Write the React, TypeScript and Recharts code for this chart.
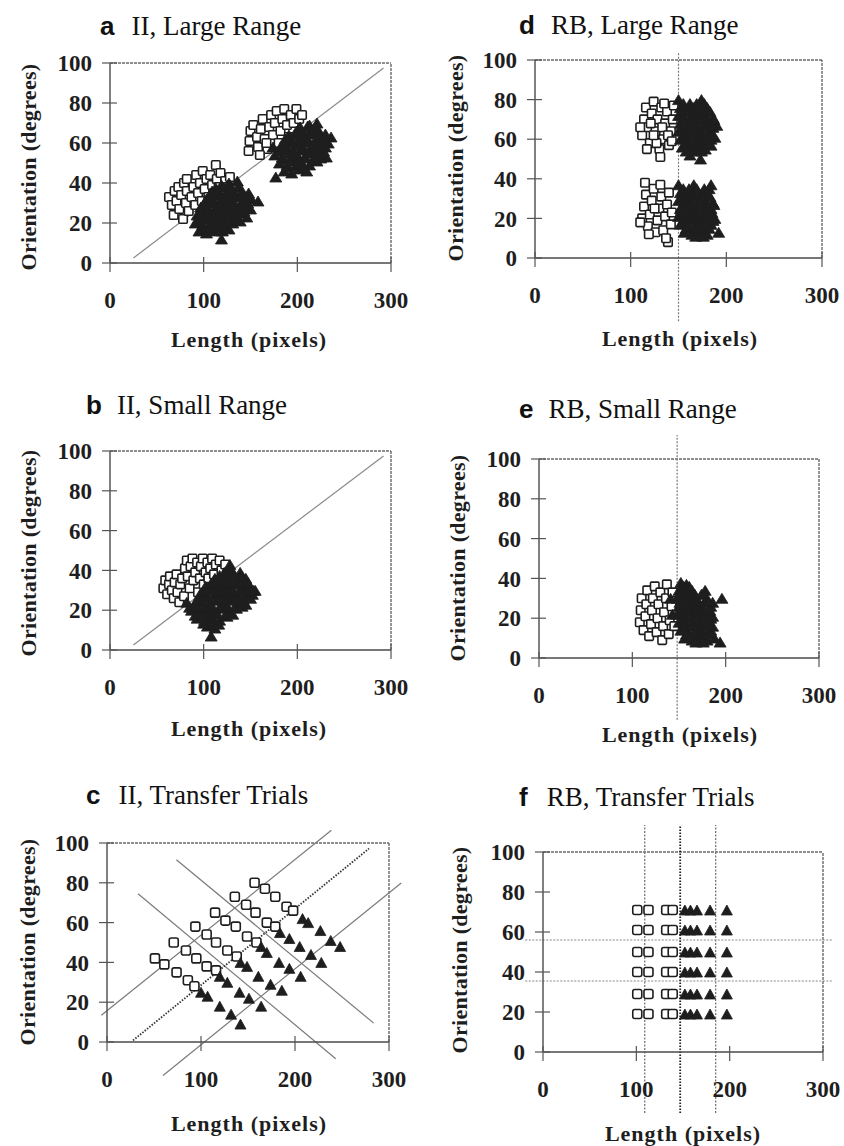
import React from 'react';
import { ScatterChart, Scatter, XAxis, YAxis, ReferenceLine } from 'recharts';

type P = [number, number];

// ---------- Panel a: II, Large Range ----------
const A_SQUARES_LOW: P[] = [
  [63, 33], [66, 29], [68, 24], [69, 36], [71, 31], [73, 38], [74, 27], [76, 34], [78, 22], [79, 40],
  [81, 30], [82, 36], [84, 26], [82, 42], [87, 33], [89, 38], [91, 29], [92, 44], [94, 35], [96, 40],
  [98, 31], [99, 46], [101, 37], [103, 42], [105, 33], [107, 44], [109, 39], [111, 35], [113, 49],
  [114, 42], [116, 38], [118, 45], [120, 36], [123, 41], [126, 38], [128, 43],
];
const A_SQUARES_HIGH: P[] = [
  [148, 56], [149, 61], [150, 66], [153, 69], [157, 63], [158, 58], [161, 67], [163, 72], [165, 62],
  [168, 57], [170, 68], [172, 74], [174, 64], [176, 70], [178, 76], [180, 60], [182, 66], [184, 72],
  [186, 77], [189, 69], [191, 63], [193, 74], [196, 70], [199, 77], [202, 72], [205, 74], [160, 54], [167, 60],
];
const A_TRIANGLES_LOW: P[] = [
  [119, 12],
  [95, 16], [103, 15], [111, 16], [120, 16], [127, 17],
  [91, 20], [99, 19], [107, 20], [115, 19], [123, 21], [131, 20], [139, 21],
  [93, 24], [101, 23], [109, 24], [117, 23], [125, 25], [133, 24], [141, 25], [146, 23],
  [97, 28], [105, 27], [113, 28], [121, 27], [129, 29], [137, 28], [145, 29], [150, 27],
  [103, 32], [111, 31], [119, 32], [127, 31], [135, 33], [143, 31], [151, 32], [158, 31],
  [109, 36], [117, 35], [125, 36], [133, 35], [141, 36], [148, 35],
  [119, 39], [127, 40], [136, 41],
  [99, 17.5], [107, 17.5], [115, 18], [123, 18],
  [95, 21.5], [103, 22], [111, 21.5], [119, 22], [127, 21.5], [135, 22],
  [97, 25.5], [105, 26], [113, 25.5], [121, 26], [129, 25.5], [137, 26], [143, 26],
  [101, 29.5], [109, 30], [117, 29.5], [125, 30], [133, 29.5], [141, 30], [147, 30],
  [107, 33.5], [115, 34], [123, 33.5], [131, 34], [139, 33.5], [146, 33],
  [113, 37.5], [121, 38], [129, 37.5], [137, 38],
];
const A_TRIANGLES_HIGH: P[] = [
  [177, 43],
  [186, 46], [194, 45], [202, 47], [210, 46],
  [181, 50], [189, 49], [197, 51], [205, 50], [213, 49], [221, 51],
  [176, 54], [184, 53], [192, 55], [200, 54], [208, 53], [216, 55], [224, 54], [231, 53],
  [174, 58], [182, 58], [190, 57], [198, 59], [206, 58], [214, 57], [222, 59], [230, 58],
  [187, 62], [195, 61], [203, 63], [211, 62], [219, 61], [227, 62], [236, 63],
  [199, 66], [207, 65], [215, 67], [223, 66],
  [213, 69], [221, 70],
  [190, 48], [198, 48.5], [206, 48],
  [185, 52], [193, 52.5], [201, 52], [209, 52.5], [217, 52], [225, 52.5],
  [180, 56], [188, 56.5], [196, 56], [204, 56.5], [212, 56], [220, 56.5], [228, 56],
  [186, 60], [194, 60.5], [202, 60], [210, 60.5], [218, 60], [226, 60.5], [233, 60],
  [191, 64], [199, 64.5], [207, 64], [215, 64.5], [223, 64], [230, 64.5],
  [203, 68], [211, 68.5], [219, 68],
];

// ---------- Panel b: II, Small Range ----------
const B_SQUARES: P[] = [
  [57, 31], [59, 35], [61, 28], [63, 33], [64, 37], [66, 30], [68, 26], [69, 34], [71, 38], [72, 29],
  [74, 24], [75, 33], [77, 36], [79, 27], [80, 41], [82, 45], [83, 37], [85, 31], [86, 42], [88, 46],
  [89, 35], [91, 39], [93, 44], [94, 29], [96, 36], [97, 42], [99, 46], [100, 33], [102, 39], [104, 44],
  [105, 36], [107, 41], [109, 46], [111, 38], [113, 43], [115, 35], [117, 45], [119, 40], [121, 36],
  [123, 43], [125, 38],
];
const B_TRIANGLES: P[] = [
  [108, 7],
  [104, 12], [112, 11],
  [93, 16], [101, 15], [109, 16], [117, 15], [125, 17],
  [87, 20], [95, 19], [103, 20], [111, 19], [119, 21], [127, 20], [135, 21],
  [82, 24], [90, 23], [98, 24], [106, 23], [114, 25], [122, 24], [130, 25], [138, 24], [145, 23],
  [96, 28], [104, 27], [112, 28], [120, 27], [128, 29], [136, 28], [144, 27], [152, 28], [155, 30],
  [102, 32], [110, 31], [118, 32], [126, 31], [134, 33], [142, 32], [150, 31],
  [112, 36], [120, 35], [128, 36], [136, 35], [145, 36],
  [122, 39], [130, 40], [139, 39],
  [128, 43],
  [100, 13.5], [108, 13.5], [116, 13],
  [91, 17.5], [99, 18], [107, 17.5], [115, 18], [123, 17.5], [131, 18],
  [85, 21.5], [93, 22], [101, 21.5], [109, 22], [117, 21.5], [125, 22], [133, 21.5], [141, 22],
  [94, 25.5], [102, 26], [110, 25.5], [118, 26], [126, 25.5], [134, 26], [142, 25.5], [150, 26],
  [100, 29.5], [108, 30], [116, 29.5], [124, 30], [132, 29.5], [140, 30], [148, 29.5], [153, 30],
  [108, 33.5], [116, 34], [124, 33.5], [132, 34], [140, 33.5], [147, 34],
  [117, 37.5], [125, 38], [133, 37.5], [141, 37],
];
const II_BOUNDARY: P[] = [[25, 2.5], [292, 97.5]];

// ---------- Panel c: II, Transfer Trials ----------
const C_SQUARES: P[] = [
  [157, 80], [168, 77], [179, 73], [191, 68], [198, 66],
  [136, 73], [148, 69], [158, 65], [170, 60], [179, 58],
  [115, 65], [126, 61], [137, 58], [149, 53], [159, 50],
  [94, 58], [106, 54], [116, 50], [128, 46], [138, 43],
  [71, 50], [84, 46], [95, 42], [106, 38], [116, 36],
  [51, 42], [61, 39], [74, 35], [86, 31], [93, 28],
];
const C_TRIANGLES: P[] = [
  [208, 62], [214, 60], [227, 56], [238, 51], [248, 48],
  [184, 55], [194, 52], [205, 48], [217, 44], [228, 40],
  [164, 48], [170, 45], [183, 40], [194, 37], [206, 33],
  [142, 40], [149, 38], [161, 33], [174, 29], [186, 26],
  [120, 33], [128, 30], [141, 25], [151, 22], [164, 18],
  [100, 25], [107, 23], [120, 18], [132, 14], [142, 9],
];
const C_SOLID_LINES: P[][] = [
  [[-6, 13.4], [238.7, 106.4]],
  [[59.6, -16.8], [313, 79.9]],
  [[73.8, 91.6], [283.7, 9.5]],
  [[33, 74.5], [243.3, -8.4]],
];
const C_DOTTED_LINE: P[] = [[27.7, 0.8], [278.7, 97.2]];

// ---------- Panel d: RB, Large Range ----------
const D_SQUARES_HIGH: P[] = [
  [112, 62], [114, 70], [116, 76], [118, 66], [120, 58], [122, 73], [124, 79], [126, 64], [128, 70],
  [130, 55], [131, 51], [132, 76], [134, 60], [136, 68], [138, 74], [140, 57], [142, 64], [144, 70],
  [145, 77], [117, 55], [121, 68], [127, 58], [133, 66], [139, 62], [143, 59], [110, 66], [124, 62], [135, 78],
];
const D_TRIANGLES_HIGH: P[] = [
  [150, 80], [174, 80],
  [152, 76], [158, 75], [166, 76], [172, 75], [180, 76],
  [150, 72], [156, 71], [164, 72], [170, 71], [178, 72], [186, 71],
  [152, 68], [160, 67], [168, 68], [176, 67], [184, 68], [190, 67],
  [150, 64], [158, 63], [166, 64], [174, 63], [182, 64],
  [152, 60], [160, 59], [168, 60], [176, 59], [184, 60], [188, 61],
  [154, 56], [162, 55], [170, 56], [178, 55], [184, 57],
  [162, 52], [173, 50],
  [155, 78], [162, 78], [169, 78], [177, 78],
  [153, 74], [161, 74], [168, 74], [175, 74], [183, 74],
  [155, 70], [163, 70], [172, 70], [180, 70], [187, 70],
  [154, 66], [162, 66], [170, 66], [179, 66], [186, 66],
  [155, 62], [163, 62], [171, 62], [179, 62], [186, 62],
  [157, 58], [165, 58], [173, 58], [181, 58],
  [158, 54], [166, 54], [174, 54],
];
const D_SQUARES_LOW: P[] = [
  [112, 20], [114, 26], [116, 32], [115, 38], [118, 16], [120, 22], [122, 29], [124, 35], [126, 13],
  [128, 19], [130, 25], [132, 31], [134, 14], [136, 21], [138, 27], [139, 8], [140, 33], [142, 17],
  [143, 23], [110, 18], [119, 12], [125, 25], [131, 37], [137, 10],
];
const D_TRIANGLES_LOW: P[] = [
  [150, 37], [166, 37], [184, 37],
  [152, 33], [158, 32], [164, 33], [172, 32], [180, 33],
  [150, 29], [156, 28], [162, 29], [170, 28], [178, 29], [186, 28],
  [152, 25], [160, 24], [168, 25], [176, 24], [184, 25],
  [150, 21], [158, 20], [166, 21], [174, 20], [182, 21], [188, 20],
  [152, 17], [160, 16], [168, 17], [176, 16], [184, 17],
  [156, 13], [164, 12], [172, 13], [180, 12], [192, 13],
  [155, 35], [161, 35], [169, 35], [177, 35], [182, 35],
  [154, 31], [161, 31], [167, 31], [175, 31], [183, 31],
  [155, 27], [164, 27], [172, 27], [180, 27], [187, 27],
  [155, 23], [163, 23], [171, 23], [179, 23], [185, 23],
  [155, 19], [163, 19], [171, 19], [179, 19], [186, 19],
  [158, 15], [166, 15], [174, 15], [182, 15],
  [168, 11], [176, 11],
];
const D_BOUNDARY: P[] = [[150, -32], [150, 104]];

// ---------- Panel e: RB, Small Range ----------
const E_SQUARES: P[] = [
  [108, 18], [109, 24], [110, 30], [112, 14], [114, 21], [115, 27], [116, 34], [118, 11], [120, 17],
  [121, 24], [122, 30], [124, 36], [126, 13], [127, 20], [128, 27], [130, 33], [132, 9], [133, 16],
  [134, 23], [136, 30], [137, 37], [139, 12], [140, 19], [142, 26], [143, 33], [145, 16],
];
const E_TRIANGLES: P[] = [
  [152, 38], [158, 37],
  [150, 34], [156, 33], [164, 34], [178, 34],
  [148, 30], [154, 29], [162, 30], [170, 29], [180, 30], [196, 30],
  [150, 26], [158, 25], [166, 26], [174, 25], [184, 26],
  [148, 22], [156, 21], [164, 22], [172, 21], [180, 22], [186, 21],
  [150, 18], [158, 17], [166, 18], [174, 17], [182, 18],
  [152, 14], [160, 13], [168, 14], [176, 13], [184, 14],
  [156, 10], [164, 9], [172, 10], [180, 9], [188, 10],
  [194, 8], [141, 30], [143, 22],
  [155, 36], [161, 36],
  [152, 32], [159, 32], [167, 32], [174, 32],
  [151, 28], [160, 28], [168, 28], [177, 28], [186, 28],
  [153, 24], [161, 24], [169, 24], [177, 24], [183, 24],
  [153, 20], [161, 20], [169, 20], [177, 20], [184, 20],
  [155, 16], [163, 16], [171, 16], [179, 16], [186, 16],
  [158, 12], [166, 12], [174, 12], [182, 12],
  [168, 8], [176, 8],
];
const E_BOUNDARY: P[] = [[148, -31], [148, 112]];

// ---------- Panel f: RB, Transfer Trials ----------
const F_ROWS_Y = [19, 29, 40, 50, 61, 71];
const F_SQUARE_X = [101, 113, 132, 139];
const F_TRIANGLE_X = [152, 158, 165, 179, 197];
const F_VERTICAL_X = [109, 185];
const F_VERTICAL_DOTTED_X = 147;
const F_HORIZONTAL_Y = [56, 35.5];

const X_TICKS = [0, 100, 200, 300];
const Y_TICKS = [0, 20, 40, 60, 80, 100];

const SERIF = '"Liberation Serif", "Times New Roman", serif';
const SANS = '"Liberation Sans", Arial, sans-serif';
const INK = '#1e1e1e';

const toPts = (arr: P[]) => arr.map(([x, y]) => ({ x, y }));
const grid = (xs: number[], ys: number[]) => {
  const out: { x: number; y: number }[] = [];
  ys.forEach((y) => xs.forEach((x) => out.push({ x, y })));
  return out;
};

function XTick(props: any) {
  const { x, y, payload } = props;
  return (
    <g>
      <line x1={x} x2={x} y1={y - 6} y2={y + 9} stroke="#555" strokeWidth={1.2} />
      <text x={x} y={y + 45} textAnchor="middle" fontFamily={SERIF} fontWeight="bold" fontSize={23} fill={INK}>
        {payload.value}
      </text>
    </g>
  );
}

function YTick(props: any) {
  const { x, y, payload } = props;
  return (
    <g>
      <line x1={x - 8} x2={x + 7} y1={y} y2={y} stroke="#555" strokeWidth={1.2} />
      <text x={x - 18} y={y} dy="0.36em" textAnchor="end" fontFamily={SERIF} fontWeight="bold" fontSize={23} fill={INK}>
        {payload.value}
      </text>
    </g>
  );
}

const squareShape = (s: number, r: number) => (props: any) => {
  const { cx, cy } = props;
  if (cx == null || cy == null) return <g />;
  return (
    <rect x={cx - s / 2} y={cy - s / 2} width={s} height={s} rx={r} fill="#fff" stroke={INK} strokeWidth={1.6} />
  );
};
const triShape = (w: number, h: number) => (props: any) => {
  const { cx, cy } = props;
  if (cx == null || cy == null) return <g />;
  return (
    <polygon
      points={`${cx},${cy - h / 2} ${cx + w / 2},${cy + h / 2} ${cx - w / 2},${cy + h / 2}`}
      fill={INK}
      stroke={INK}
      strokeWidth={0.8}
    />
  );
};

type Seg = { pts: P[]; stroke: string; width: number; dash?: string };

type PanelProps = {
  L: number;
  T: number;
  R: number;
  B: number;
  rightMargin: number;
  squares: { x: number; y: number }[][];
  triangles: { x: number; y: number }[][];
  segs: Seg[];
  sq: number;
  sqR: number;
  triW: number;
  triH: number;
};

function Panel({ L, T, R, B, rightMargin, squares, triangles, segs, sq, sqR, triW, triH }: PanelProps) {
  const W = R - L + 110 + rightMargin;
  const H = B - T + 40 + 75;
  return (
    <div style={{ position: 'absolute', left: L - 110, top: T - 40, width: W, height: H }}>
      <ScatterChart width={W} height={H} margin={{ top: 40, right: rightMargin, bottom: 0, left: 0 }}>
        <XAxis
          type="number"
          dataKey="x"
          domain={[0, 300]}
          ticks={X_TICKS}
          interval={0}
          tick={XTick}
          tickLine={false}
          tickSize={0}
          tickMargin={0}
          height={75}
          axisLine={{ stroke: '#4a4a4a', strokeWidth: 1.4 }}
        />
        <YAxis
          type="number"
          dataKey="y"
          domain={[0, 100]}
          ticks={Y_TICKS}
          interval={0}
          tick={YTick}
          tickLine={false}
          tickSize={0}
          tickMargin={0}
          width={110}
          axisLine={{ stroke: '#4a4a4a', strokeWidth: 1.4 }}
        />
        <ReferenceLine y={100} stroke="#6a6a6a" strokeWidth={1.4} strokeDasharray="3 1" />
        <ReferenceLine x={300} stroke="#6a6a6a" strokeWidth={1.4} strokeDasharray="3 1" />
        {segs.map((s, i) => (
          <ReferenceLine
            key={'seg' + i}
            segment={[
              { x: s.pts[0][0], y: s.pts[0][1] },
              { x: s.pts[1][0], y: s.pts[1][1] },
            ]}
            stroke={s.stroke}
            strokeWidth={s.width}
            strokeDasharray={s.dash}
            ifOverflow="visible"
          />
        ))}
        {squares.map((d, i) => (
          <Scatter key={'sq' + i} data={d} shape={squareShape(sq, sqR)} isAnimationActive={false} />
        ))}
        {triangles.map((d, i) => (
          <Scatter key={'tr' + i} data={d} shape={triShape(triW, triH)} isAnimationActive={false} />
        ))}
      </ScatterChart>
    </div>
  );
}

type TitleSpec = { letter: string; text: string; x: number; y: number; dx: number };
const TITLES: TitleSpec[] = [
  { letter: 'a', text: 'II, Large Range', x: 100, y: 35, dx: 17 },
  { letter: 'b', text: 'II, Small Range', x: 86, y: 414, dx: 15 },
  { letter: 'c', text: 'II, Transfer Trials', x: 86, y: 804, dx: 18 },
  { letter: 'd', text: 'RB, Large Range', x: 519, y: 34, dx: 16 },
  { letter: 'e', text: 'RB, Small Range', x: 519, y: 418, dx: 15 },
  { letter: 'f', text: 'RB, Transfer Trials', x: 519, y: 806, dx: 19 },
];
const Y_LABELS: P[] = [[28, 167], [28, 553], [27, 942], [455, 158], [457, 558], [459, 950]];
const X_LABELS: P[] = [[249, 347], [249, 736], [249, 1131], [680, 346], [680, 742], [683, 1141]];

export default function App() {
  const lightLine = '#8a8a8a';
  const fVertical: Seg[] = F_VERTICAL_X.map((x) => ({
    pts: [[x, -30.5], [x, 113.5]] as P[],
    stroke: '#777',
    width: 1.3,
    dash: '2 1.5',
  }));
  const fHorizontal: Seg[] = F_HORIZONTAL_Y.map((y) => ({
    pts: [[-19, y], [310, y]] as P[],
    stroke: '#888',
    width: 1.2,
    dash: '2 1.5',
  }));
  return (
    <div
      style={{
        position: 'absolute',
        left: 0,
        top: 0,
        width: 844,
        height: 1146,
        background: '#fff',
        overflow: 'hidden',
      }}
    >
      <Panel
        L={110} T={63} R={391} B={263} rightMargin={20}
        squares={[toPts(A_SQUARES_LOW), toPts(A_SQUARES_HIGH)]}
        triangles={[toPts(A_TRIANGLES_LOW), toPts(A_TRIANGLES_HIGH)]}
        segs={[{ pts: II_BOUNDARY, stroke: lightLine, width: 1.2 }]}
        sq={8.5} sqR={1} triW={12} triH={10}
      />
      <Panel
        L={110} T={451} R={391} B={650} rightMargin={20}
        squares={[toPts(B_SQUARES)]}
        triangles={[toPts(B_TRIANGLES)]}
        segs={[{ pts: II_BOUNDARY, stroke: lightLine, width: 1.2 }]}
        sq={8.5} sqR={1} triW={12} triH={10}
      />
      <Panel
        L={107} T={843} R={389} B={1042} rightMargin={20}
        squares={[toPts(C_SQUARES)]}
        triangles={[toPts(C_TRIANGLES)]}
        segs={[
          ...C_SOLID_LINES.map((pts) => ({ pts, stroke: '#7a7a7a', width: 1.2 })),
          { pts: C_DOTTED_LINE, stroke: '#333', width: 1.8, dash: '1.5 1.5' },
        ]}
        sq={9} sqR={2} triW={11} triH={10}
      />
      <Panel
        L={535} T={60} R={822} B={258} rightMargin={20}
        squares={[toPts(D_SQUARES_HIGH), toPts(D_SQUARES_LOW)]}
        triangles={[toPts(D_TRIANGLES_HIGH), toPts(D_TRIANGLES_LOW)]}
        segs={[{ pts: D_BOUNDARY, stroke: '#777', width: 1.2, dash: '2 1.5' }]}
        sq={8.5} sqR={1} triW={12} triH={10}
      />
      <Panel
        L={539} T={459} R={819} B={658} rightMargin={20}
        squares={[toPts(E_SQUARES)]}
        triangles={[toPts(E_TRIANGLES)]}
        segs={[{ pts: E_BOUNDARY, stroke: '#777', width: 1.2, dash: '2 1.5' }]}
        sq={8.5} sqR={1} triW={12} triH={10}
      />
      <Panel
        L={543} T={852} R={823} B={1052} rightMargin={20}
        squares={[grid(F_SQUARE_X, F_ROWS_Y)]}
        triangles={[grid(F_TRIANGLE_X, F_ROWS_Y)]}
        segs={[
          ...fVertical,
          ...fHorizontal,
          {
            pts: [[F_VERTICAL_DOTTED_X, -30.5], [F_VERTICAL_DOTTED_X, 113.5]] as P[],
            stroke: '#222',
            width: 1.8,
            dash: '1.5 1.5',
          },
        ]}
        sq={9} sqR={2} triW={11} triH={10}
      />
      <svg
        width={844}
        height={1146}
        style={{ position: 'absolute', left: 0, top: 0, pointerEvents: 'none' }}
      >
        {TITLES.map((t) => (
          <text key={t.letter} x={t.x} y={t.y} fill="#111">
            <tspan fontFamily={SANS} fontWeight="bold" fontSize={26}>
              {t.letter}
            </tspan>
            <tspan dx={t.dx} fontFamily={SERIF} fontSize={27}>
              {t.text}
            </tspan>
          </text>
        ))}
        {Y_LABELS.map(([cx, cy], i) => (
          <text
            key={'yl' + i}
            transform={`translate(${cx},${cy}) rotate(-90)`}
            textAnchor="middle"
            dy="0.35em"
            fontFamily={SERIF}
            fontWeight="bold"
            fontSize={22}
            letterSpacing={0.3}
            fill={INK}
          >
            Orientation (degrees)
          </text>
        ))}
        {X_LABELS.map(([cx, by], i) => (
          <text
            key={'xl' + i}
            x={cx}
            y={by}
            textAnchor="middle"
            fontFamily={SERIF}
            fontWeight="bold"
            fontSize={22}
            letterSpacing={1}
            fill={INK}
          >
            Length (pixels)
          </text>
        ))}
      </svg>
    </div>
  );
}
